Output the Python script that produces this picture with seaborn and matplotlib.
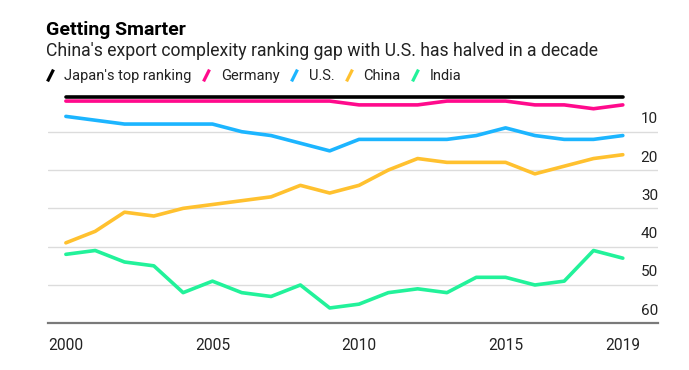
import numpy as np
import pandas as pd
import seaborn as sns
import matplotlib.pyplot as plt
from matplotlib.lines import Line2D
from matplotlib.path import Path
from matplotlib.transforms import ScaledTranslation

# Data (export complexity rank, 1 = best)
years = list(range(2000, 2020))
japan = [1] * 20
germany = [2, 2, 2, 2, 2, 2, 2, 2, 2, 2, 3, 3, 3, 2, 2, 2, 3, 3, 4, 3]
us = [6, 7, 8, 8, 8, 8, 10, 11, 13, 15, 12, 12, 12, 12, 11, 9, 11, 12, 12, 11]
china = [39, 36, 31, 32, 30, 29, 28, 27, 24, 26, 24, 20, 17, 18, 18, 18, 21, 19, 17, 16]
india = [42, 41, 44, 45, 52, 49, 52, 53, 50, 56, 55, 52, 51, 52, 48, 48, 50, 49, 41, 43]

names = ["Japan's top ranking", "Germany", "U.S.", "China", "India"]
colors = ["#000000", "#ff0a8c", "#1cb5ff", "#ffc12f", "#22f29a"]
y_ticks = [10, 20, 30, 40, 50, 60]
x_ticks = [2000, 2005, 2010, 2015, 2019]

df = pd.DataFrame({
    "year": years * 5,
    "rank": japan + germany + us + china + india,
    "country": sum([[n] * len(years) for n in names], []),
})

sns.set_style("white")
plt.rcParams["font.family"] = ["Roboto", "DejaVu Sans"]

fig = plt.figure(figsize=(6.89, 3.70), dpi=100)
ax = fig.add_axes([48 / 689, 1 - 323.3 / 370, 610 / 689, (323.3 - 93.4) / 370])

sns.lineplot(data=df, x="year", y="rank", hue="country", hue_order=names[::-1],
             palette=dict(zip(names, colors)), lw=2.6, legend=False, ax=ax)

ax.set_xlim(1999.39, 2020.2)
ax.set_ylim(60, 0)
ax.set_xlabel("")
ax.set_ylabel("")

# grid + axis styling
ax.set_yticks(y_ticks)
ax.yaxis.grid(True, color="#dcdcdc", lw=1)
ax.tick_params(axis="y", length=0, labelleft=False, labelright=False)
for s in ["top", "left", "right"]:
    ax.spines[s].set_visible(False)
ax.spines["bottom"].set_color("#7a7a7a")
ax.spines["bottom"].set_linewidth(1.6)
ax.spines["bottom"].set_zorder(5)

ax.set_xticks(x_ticks)
ax.set_xticklabels([str(t) for t in x_ticks])
ax.tick_params(axis="x", length=4.5, width=1, color="#7a7a7a", pad=6,
               labelsize=11.2, labelcolor="#222222")

# right-side rank labels sitting above their gridlines
off = ScaledTranslation(0, 8.5 / 100, fig.dpi_scale_trans)
for t in y_ticks:
    ax.text(1.0, t, str(t), transform=ax.get_yaxis_transform() + off,
            ha="right", va="baseline", fontsize=11, color="#222222")

# headline
fig.text(46 / 689, 1 - 35 / 370, "Getting Smarter", fontsize=14,
         fontweight="bold", color="#000000", va="baseline")
fig.text(46 / 689, 1 - 56 / 370,
         "China's export complexity ranking gap with U.S. has halved in a decade",
         fontsize=12.7, color="#222222", va="baseline")

# legend with slanted-stroke markers
slash = Path([(-0.5, -1), (0.5, 1)], [Path.MOVETO, Path.LINETO])
handles = [Line2D([], [], color=c, marker=slash, linestyle="None",
                  markersize=8.5, markeredgewidth=2.3) for c in colors]
fig.legend(handles, names, loc="lower left", bbox_to_anchor=(44 / 689, 1 - 83 / 370),
           ncol=5, frameon=False, fontsize=10.5, handlelength=0.8,
           handletextpad=0.6, columnspacing=0.6, borderpad=0, borderaxespad=0,
           labelcolor="#222222")

fig.savefig("out.png", dpi=100)
